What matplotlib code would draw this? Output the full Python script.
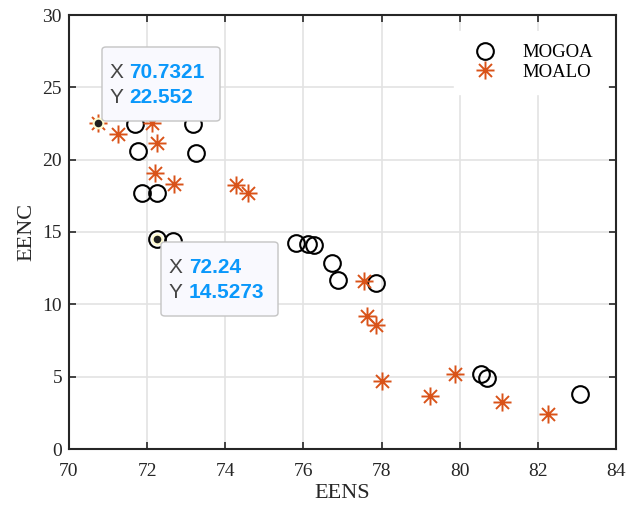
import matplotlib
matplotlib.use("Agg")
import numpy as np
from matplotlib import pyplot as plt
from matplotlib.path import Path
from matplotlib.patches import FancyBboxPatch

# MOGOA pareto front (EENS, EENC)
mogoa_eens = [72.24, 72.67, 71.69, 73.17, 71.76, 73.25, 71.86, 72.25, 75.81, 76.12,
              76.28, 76.72, 76.88, 77.85, 80.54, 80.71, 83.08]
mogoa_eenc = [14.5273, 14.40, 22.45, 22.45, 20.58, 20.45, 17.68, 17.68, 14.27, 14.18,
              14.08, 12.84, 11.69, 11.50, 5.19, 4.93, 3.78]

# MOALO pareto front (EENS, EENC)
moalo_eens = [70.7321, 71.26, 72.12, 72.26, 72.20, 72.70, 74.27, 74.58, 77.55, 77.62,
              77.85, 78.00, 79.23, 79.87, 81.09, 82.26]
moalo_eenc = [22.552, 21.75, 22.55, 21.14, 19.07, 18.30, 18.26, 17.73, 11.64, 9.22,
              8.58, 4.73, 3.67, 5.19, 3.27, 2.42]

# data tips
tips = [(70.7321, 22.552, "70.7321", "22.552"),
        (72.24, 14.5273, "72.24", "14.5273")]
tip_boxes = [(102, 47, 220, 121), (161, 242, 278, 316)]  # px: left, top, right, bottom

W, H = 637, 508
orange = "#D95319"
serif = ["Liberation Serif", "DejaVu Serif"]

# MATLAB style asterisk marker
d = 0.72
star = Path([(0, -1), (0, 1), (-1, 0), (1, 0), (-d, -d), (d, d), (-d, d), (d, -d)],
            [Path.MOVETO, Path.LINETO] * 4)

fig = plt.figure(figsize=(W / 100, H / 100), dpi=100)
ax = fig.add_axes([69 / W, 1 - 449 / H, (616 - 69) / W, (449 - 15) / H])

ax.plot(mogoa_eens, mogoa_eenc, linestyle="none", marker="o", markersize=12,
        markerfacecolor="none", markeredgecolor="black", markeredgewidth=1.5,
        label="MOGOA", zorder=3)
ax.plot(moalo_eens, moalo_eenc, linestyle="none", marker=star, markersize=13,
        markerfacecolor="none", markeredgecolor=orange, markeredgewidth=1.4,
        label="MOALO", zorder=3)

ax.set_xlim(70, 84)
ax.set_ylim(0, 30)
ax.set_xticks(np.arange(70, 85, 2))
ax.set_yticks(np.arange(0, 31, 5))
ax.grid(True, color="#e3e3e3", linewidth=1.2)
ax.set_axisbelow(True)
ax.tick_params(direction="in", top=True, right=True, length=5, width=1.2,
               color="#262626", labelsize=14, pad=5)
ax.tick_params(axis="x", pad=10)
for lab in ax.get_xticklabels() + ax.get_yticklabels():
    lab.set_fontfamily(serif)
    lab.set_color("#262626")
for s in ax.spines.values():
    s.set_linewidth(1.5)
    s.set_color("#262626")

ax.set_xlabel("EENS", fontsize=16, family=serif, color="#262626", labelpad=3)
ax.set_ylabel("EENC", fontsize=16, family=serif, color="#262626", labelpad=4)

leg = ax.legend(loc="upper right", frameon=True, fancybox=False, framealpha=1,
                edgecolor="white", prop={"family": serif, "size": 13.5},
                handletextpad=1.0, borderpad=0.7, labelspacing=0.12,
                bbox_to_anchor=(1.0, 0.985))

# data tip markers and boxes
for (x, y, xs, ys), (l, t, r, b) in zip(tips, tip_boxes):
    ax.plot([x], [y], marker="o", markersize=7, markerfacecolor="#202020",
            markeredgecolor="#fffbd0", markeredgewidth=1.5, zorder=4)
    box = FancyBboxPatch((l / W, 1 - b / H), (r - l) / W, (b - t) / H,
                         boxstyle="round,pad=0,rounding_size=0.006",
                         transform=fig.transFigure, facecolor="#f9f9fe",
                         edgecolor="#c4c4c4", linewidth=1.0, zorder=5)
    fig.patches.append(box)
    tx = l + 8
    for i, (k, v) in enumerate([("X", xs), ("Y", ys)]):
        ty = t + (b - t) * (0.34 + 0.34 * i)
        t1 = fig.text(tx / W, 1 - ty / H, k + " ", fontsize=15, color="#454545",
                      family="Liberation Sans", va="center", ha="left", zorder=6)
        fig.canvas.draw()
        bb = t1.get_window_extent()
        fig.text(bb.x1 / W, 1 - ty / H, v, fontsize=15, color="#0a98fb",
                 family="Liberation Sans", fontweight="bold", va="center",
                 ha="left", zorder=6)

fig.savefig("out.png", dpi=100)
